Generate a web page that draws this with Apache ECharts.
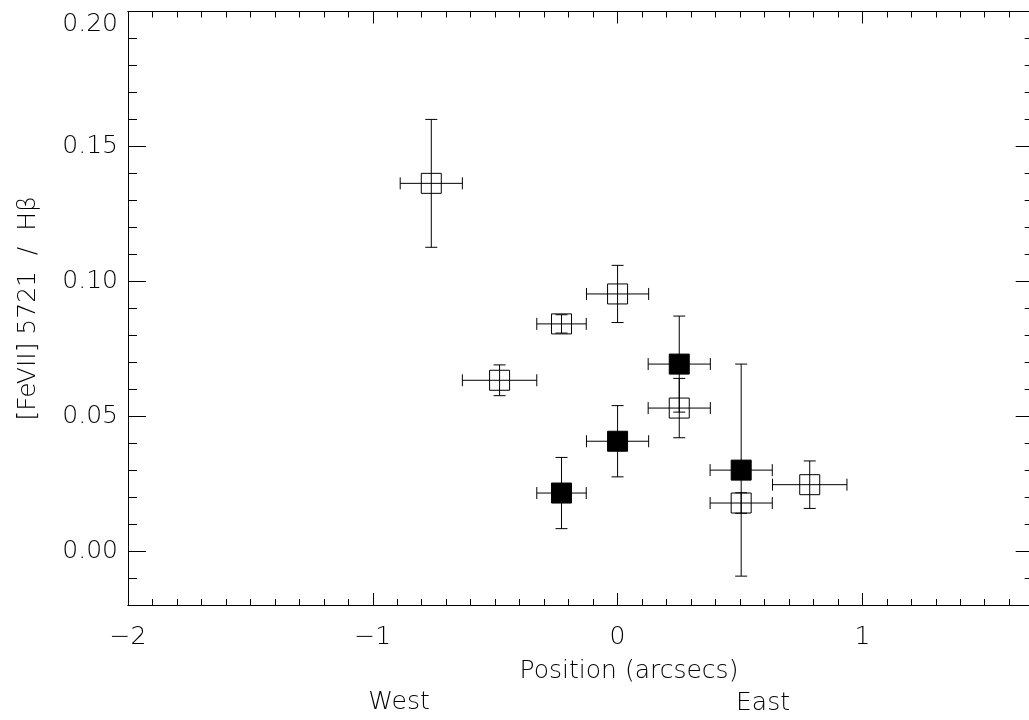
<!DOCTYPE html>
<html>
<head>
<meta charset="utf-8">
<script src="https://cdn.jsdelivr.net/npm/echarts@6/dist/echarts.min.js"></script>
<style>
  html, body { margin: 0; padding: 0; background: #fff; }
  #main { width: 1029px; height: 720px; }
</style>
</head>
<body>
<div id="main"></div>
<script>
// open squares
var openX    = [-0.761, -0.482, -0.229, 0.000, 0.252, 0.505, 0.785];
var openY    = [0.1363, 0.0633, 0.0842, 0.0953, 0.0530, 0.0178, 0.0246];
var openXErr = [0.127, 0.152, 0.101, 0.127, 0.127, 0.127, 0.152];
var openYErr = [0.0237, 0.0057, 0.0034, 0.0106, 0.0110, 0.0038, 0.0088];

// filled squares
var filledX    = [-0.229, 0.000, 0.252, 0.505];
var filledY    = [0.0215, 0.0407, 0.0693, 0.0300];
var filledXErr = [0.101, 0.127, 0.127, 0.127];
var filledYErr = [0.0132, 0.0132, 0.0178, 0.0393];

var xTicks = [-2, -1, 0, 1];
var yTicks = [0, 0.05, 0.10, 0.15];
var yTopTick = [0.20];

var dom = document.getElementById('main');
var myChart = echarts.init(dom, null, {renderer: 'canvas'});

var FONT = 'DejaVu Sans';
var FS = 25;

function toRows(xs, ys, exs, eys) {
    return xs.map(function (x, i) { return [x, ys[i], exs[i], eys[i]]; });
}

function errItem(filled) {
    return function (params, api) {
        var x = api.value(0), y = api.value(1);
        var ex = api.value(2), ey = api.value(3);
        var c = api.coord([x, y]);
        var l = api.coord([x - ex, y]), r = api.coord([x + ex, y]);
        var t = api.coord([x, y + ey]), b = api.coord([x, y - ey]);
        var cap = 6, half = 10;
        var st = {stroke: '#000', lineWidth: 1};
        function line(x1, y1, x2, y2) {
            return {type: 'line', shape: {x1: x1, y1: y1, x2: x2, y2: y2}, style: st};
        }
        return {
            type: 'group',
            children: [
                line(l[0], c[1], r[0], c[1]),
                line(l[0], c[1] - cap, l[0], c[1] + cap),
                line(r[0], c[1] - cap, r[0], c[1] + cap),
                line(c[0], t[1], c[0], b[1]),
                line(c[0] - cap, t[1], c[0] + cap, t[1]),
                line(c[0] - cap, b[1], c[0] + cap, b[1]),
                {
                    type: 'rect',
                    shape: {x: c[0] - half, y: c[1] - half, width: 2 * half, height: 2 * half},
                    style: {fill: filled ? '#000' : 'none', stroke: '#000', lineWidth: 1}
                }
            ]
        };
    };
}

var lineStyle = {color: '#000', width: 1};

function xAx(pos, len, major) {
    var a = {
        type: 'value', position: pos, min: -2, max: 1.7,
        axisLine: {show: true, onZero: false, lineStyle: lineStyle},
        axisTick: {show: true, inside: true, length: len, lineStyle: lineStyle},
        axisLabel: {show: false},
        splitLine: {show: false}
    };
    if (major) {
        a.axisTick.customValues = xTicks;
        if (pos === 'bottom') {
            a.axisLabel = {
                show: true, customValues: xTicks, margin: 20,
                fontFamily: FONT, fontSize: FS, fontWeight: 200, color: '#000',
                formatter: function (v) { return String(v).replace('-', '\u2212'); }
            };
        }
    } else {
        a.interval = 0.1;
    }
    return a;
}

function yAx(pos, len, kind) {
    var a = {
        type: 'value', position: pos, min: -0.02, max: 0.20,
        axisLine: {show: true, onZero: false, lineStyle: lineStyle},
        axisTick: {show: true, inside: true, length: len, lineStyle: lineStyle},
        axisLabel: {show: false},
        splitLine: {show: false}
    };
    if (kind === 'minor') {
        a.interval = 0.01;
    } else {
        a.axisTick.customValues = yTicks.concat(yTopTick);
    }
    if (kind === 'label') {
        a.axisLabel = {
            show: true, customValues: yTicks, margin: 10,
            fontFamily: FONT, fontSize: FS, fontWeight: 200, color: '#000',
            formatter: function (v) { return v.toFixed(2); }
        };
        a.name = '[FeVII] 5721  /  H\u03b2';
        a.nameLocation = 'middle';
        a.nameGap = 87;
        a.nameTextStyle = {fontFamily: FONT, fontSize: FS, fontWeight: 200, color: '#000'};
    }
    if (kind === 'top') {
        a.axisLine = {show: false};
        a.axisTick = {show: false};
        a.axisLabel = {
            show: true, customValues: yTopTick, margin: 10, verticalAlign: 'top',
            fontFamily: FONT, fontSize: FS, fontWeight: 200, color: '#000',
            formatter: function (v) { return v.toFixed(2); }
        };
    }
    return a;
}

option = {
    backgroundColor: '#fff',
    animation: false,
    grid: {left: 128, top: 11.5, width: 905.7, height: 593.5, containLabel: false, outerBoundsMode: 'none'},
    xAxis: [
        xAx('bottom', 6, false),
        xAx('bottom', 12, true),
        xAx('top', 6, false),
        xAx('top', 12, true)
    ],
    yAxis: [
        yAx('left', 9, 'minor'),
        yAx('left', 18, 'label'),
        yAx('right', 9, 'minor'),
        yAx('right', 18, 'major'),
        yAx('left', 0, 'top')
    ],
    graphic: [
        {type: 'text', x: 629, y: 671, style: {text: 'Position (arcsecs)', font: '200 ' + FS + 'px "' + FONT + '"', fill: '#000', align: 'center', verticalAlign: 'middle'}},
        {type: 'text', x: 399, y: 702, style: {text: 'West', font: '200 ' + FS + 'px "' + FONT + '"', fill: '#000', align: 'center', verticalAlign: 'middle'}},
        {type: 'text', x: 763, y: 703, style: {text: 'East', font: '200 ' + FS + 'px "' + FONT + '"', fill: '#000', align: 'center', verticalAlign: 'middle'}}
    ],
    series: [
        {
            type: 'custom', name: 'open', xAxisIndex: 1, yAxisIndex: 1, clip: false,
            renderItem: errItem(false),
            encode: {x: 0, y: 1},
            data: toRows(openX, openY, openXErr, openYErr)
        },
        {
            type: 'custom', name: 'filled', xAxisIndex: 1, yAxisIndex: 1, clip: false,
            renderItem: errItem(true),
            encode: {x: 0, y: 1},
            data: toRows(filledX, filledY, filledXErr, filledYErr)
        }
    ]
};

if (option && typeof option === 'object') {
    myChart.setOption(option, true);
}
</script>
</body>
</html>
